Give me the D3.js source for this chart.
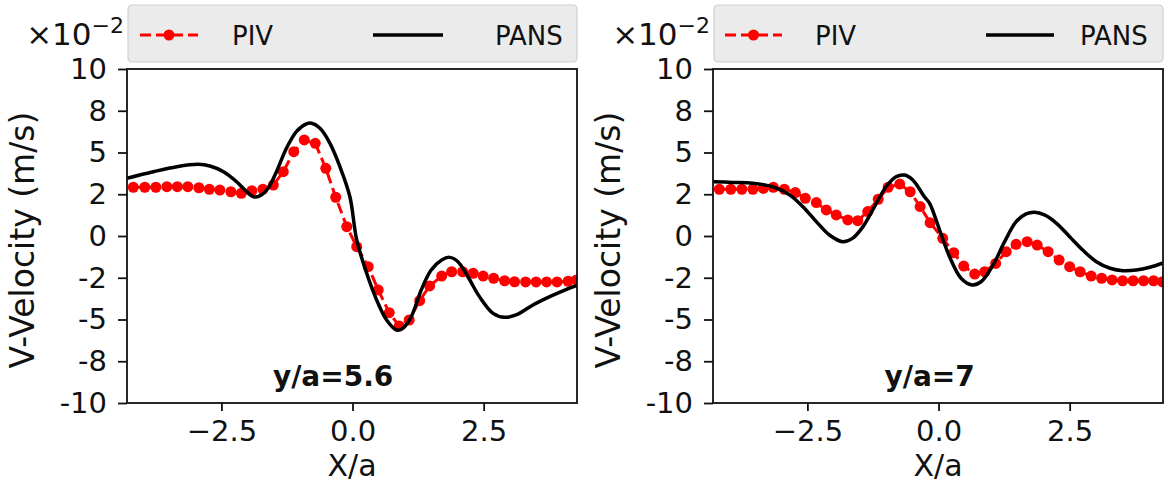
<!DOCTYPE html>
<html>
<head>
<meta charset="utf-8">
<script src="https://cdn.jsdelivr.net/npm/d3@7"></script>
<style>
  body { margin: 0; background: #fff; }
  text { font-family: "DejaVu Sans", sans-serif; fill: #111; }
</style>
</head>
<body>
<div id="divbody"></div>
<script>
// ---- data (values in 1e-2 m/s) ----
var xTicks = [-2.5, 0, 2.5];
var xTickLabels = ["\u22122.5", "0.0", "2.5"];
var yTicks = [-10, -7.5, -5, -2.5, 0, 2.5, 5, 7.5, 10];
var yTickLabels = ["-10", "-8", "-5", "-2", "0", "2", "5", "8", "10"];
var seriesNames = ["PIV", "PANS"];
var panelTitles = ["y/a=5.6", "y/a=7"];

var pivLeftX = [-4.18, -3.96, -3.75, -3.54, -3.34, -3.14, -2.93, -2.73, -2.53, -2.32, -2.12, -1.92, -1.71, -1.51, -1.32, -1.12, -0.92, -0.71, -0.51, -0.32, -0.11, 0.08, 0.30, 0.49, 0.70, 0.89, 1.08, 1.28, 1.47, 1.70, 1.89, 2.10, 2.30, 2.49, 2.69, 2.90, 3.09, 3.30, 3.50, 3.70, 3.90, 4.11, 4.27];
var pivLeftV = [2.92, 2.92, 2.92, 2.95, 2.95, 2.95, 2.89, 2.80, 2.75, 2.65, 2.56, 2.71, 2.80, 3.05, 3.85, 5.05, 5.75, 5.55, 4.05, 2.32, 0.56, -0.64, -1.84, -3.23, -4.59, -5.39, -5.03, -3.87, -2.99, -2.40, -2.14, -2.14, -2.23, -2.40, -2.53, -2.68, -2.74, -2.75, -2.75, -2.75, -2.75, -2.71, -2.63];

var pansLeftX = [-4.30, -3.80, -3.35, -2.94, -2.72, -2.46, -2.21, -2.02, -1.89, -1.77, -1.61, -1.45, -1.26, -1.07, -0.88, -0.78, -0.62, -0.43, -0.24, -0.05, 0.08, 0.27, 0.46, 0.65, 0.84, 0.96, 1.12, 1.31, 1.50, 1.70, 1.85, 2.01, 2.20, 2.42, 2.68, 2.90, 3.12, 3.44, 3.76, 4.08, 4.30];
var pansLeftV = [3.46, 3.85, 4.15, 4.29, 4.19, 3.85, 3.25, 2.65, 2.35, 2.40, 2.86, 3.85, 5.25, 6.25, 6.71, 6.75, 6.45, 5.55, 4.15, 2.35, -0.24, -2.23, -3.83, -5.03, -5.63, -5.53, -4.83, -3.23, -2.04, -1.44, -1.28, -1.54, -2.44, -3.63, -4.63, -4.87, -4.73, -4.13, -3.63, -3.19, -2.93];

var pivRightX = [-4.18, -3.96, -3.75, -3.54, -3.34, -3.15, -2.94, -2.73, -2.54, -2.33, -2.14, -1.95, -1.73, -1.54, -1.35, -1.15, -0.96, -0.74, -0.54, -0.35, -0.16, 0.08, 0.29, 0.48, 0.69, 0.88, 1.09, 1.29, 1.48, 1.69, 1.88, 2.09, 2.30, 2.50, 2.70, 2.91, 3.11, 3.31, 3.51, 3.71, 3.91, 4.10, 4.27];
var pivRightV = [2.80, 2.80, 2.80, 2.80, 2.85, 2.92, 2.80, 2.60, 2.26, 2.00, 1.56, 1.26, 0.96, 0.92, 1.46, 2.20, 2.92, 3.11, 2.65, 1.76, 0.80, -0.14, -1.00, -1.80, -2.28, -2.14, -1.64, -0.94, -0.50, -0.34, -0.54, -0.94, -1.44, -1.84, -2.14, -2.40, -2.53, -2.63, -2.68, -2.68, -2.68, -2.68, -2.74];

var pansRightX = [-4.31, -3.93, -3.54, -3.16, -2.84, -2.59, -2.33, -2.08, -1.83, -1.64, -1.44, -1.22, -1.00, -0.81, -0.65, -0.49, -0.27, -0.17, 0.02, 0.21, 0.43, 0.64, 0.81, 1.04, 1.26, 1.48, 1.67, 1.83, 2.02, 2.25, 2.50, 2.75, 3.01, 3.27, 3.52, 3.77, 4.03, 4.27];
var pansRightV = [3.25, 3.21, 3.16, 2.95, 2.46, 1.76, 0.86, 0.06, -0.34, -0.14, 0.56, 1.76, 2.95, 3.55, 3.65, 3.35, 2.35, 1.96, 0.36, -1.24, -2.53, -2.93, -2.74, -1.74, -0.34, 0.86, 1.32, 1.42, 1.26, 0.76, -0.04, -0.84, -1.54, -1.93, -2.08, -2.04, -1.87, -1.63];

var titleX = [-0.37, -0.17];
var titleY = [-9.0, -9.0];

// ---- layout ----
var width = 1168, height = 497;
var plotTop = 69, plotBottom = 403;
var panels = [
  { left: 127, right: 577, piv: [pivLeftX, pivLeftV], pans: [pansLeftX, pansLeftV], title: panelTitles[0], tx: titleX[0], ty: titleY[0],
    leg: { pivH: [13, 71], pivT: 105, pansH: [246, 316], pansT: 368 } },
  { left: 713, right: 1163, piv: [pivRightX, pivRightV], pans: [pansRightX, pansRightV], title: panelTitles[1], tx: titleX[1], ty: titleY[1],
    leg: { pivH: [12, 69], pivT: 102, pansH: [273, 341], pansT: 367 } }
];

var svg = d3.select("#divbody").append("svg")
  .attr("width", width)
  .attr("height", height);
svg.append("rect").attr("width", width).attr("height", height).attr("fill", "#fff");

panels.forEach(function(p) {
  var x = d3.scaleLinear().domain([-4.3, 4.28]).range([p.left, p.right]);
  var y = d3.scaleLinear().domain([-10, 10]).range([plotBottom, plotTop]);
  var g = svg.append("g");

  var clipId = "clip" + p.left;
  g.append("clipPath").attr("id", clipId)
    .append("rect").attr("x", p.left).attr("y", plotTop).attr("width", p.right - p.left).attr("height", plotBottom - plotTop);

  var plot = g.append("g").attr("clip-path", "url(#" + clipId + ")");

  var pivData = p.piv[0].map(function(d, i) { return [d, p.piv[1][i]]; });
  var pansData = p.pans[0].map(function(d, i) { return [d, p.pans[1][i]]; });

  var line = d3.line().x(function(d) { return x(d[0]); }).y(function(d) { return y(d[1]); });
  var smooth = d3.line().curve(d3.curveCatmullRom.alpha(0.5))
    .x(function(d) { return x(d[0]); }).y(function(d) { return y(d[1]); });

  plot.append("path").datum(pivData)
    .attr("d", line)
    .attr("fill", "none").attr("stroke", "#ff0000").attr("stroke-width", 3)
    .attr("stroke-dasharray", "11,5");
  plot.selectAll("circle").data(pivData).enter().append("circle")
    .attr("cx", function(d) { return x(d[0]); })
    .attr("cy", function(d) { return y(d[1]); })
    .attr("r", 5.5).attr("fill", "#ff0000");
  plot.append("path").datum(pansData)
    .attr("d", smooth)
    .attr("fill", "none").attr("stroke", "#000").attr("stroke-width", 3.5);

  // frame
  g.append("rect").attr("x", p.left).attr("y", plotTop)
    .attr("width", p.right - p.left).attr("height", plotBottom - plotTop)
    .attr("fill", "none").attr("stroke", "#111").attr("stroke-width", 1.8);

  // axes
  var xAxis = d3.axisBottom(x).tickValues(xTicks).tickSize(8).tickPadding(9)
    .tickFormat(function(d, i) { return xTickLabels[i]; });
  var yAxis = d3.axisLeft(y).tickValues(yTicks).tickSize(9).tickPadding(11)
    .tickFormat(function(d, i) { return yTickLabels[i]; });
  var gx = g.append("g").attr("transform", "translate(0," + plotBottom + ")").call(xAxis);
  var gy = g.append("g").attr("transform", "translate(" + p.left + ",0)").call(yAxis);
  [gx, gy].forEach(function(a) {
    a.select(".domain").remove();
    a.selectAll("line").attr("stroke", "#111").attr("stroke-width", 1.8);
    a.selectAll("text").attr("font-size", 29).attr("font-family", "DejaVu Sans").attr("fill", "#111");
  });

  // axis labels
  g.append("text").attr("x", (p.left + p.right) / 2).attr("y", 476)
    .attr("text-anchor", "middle").attr("font-size", 30).text("X/a");
  g.append("text")
    .attr("transform", "translate(" + (p.left - 93) + "," + ((plotTop + plotBottom) / 2 + 4) + ") rotate(-90)")
    .attr("text-anchor", "middle").attr("font-size", 33).text("V-Velocity (m/s)");

  // offset text
  var off = g.append("text").attr("x", p.left - 3).attr("y", 45).attr("text-anchor", "end").attr("font-size", 31);
  off.append("tspan").text("\u00d710");
  off.append("tspan").attr("dy", -12).attr("font-size", 22).text("\u22122");

  // panel title
  g.append("text").attr("x", x(p.tx)).attr("y", y(p.ty))
    .attr("text-anchor", "middle").attr("font-family", "Lato, sans-serif")
    .attr("font-weight", "bold").attr("font-size", 28).attr("fill", "#000").text(p.title);

  // legend
  var lg = g.append("g").attr("transform", "translate(" + p.left + ",0)");
  lg.append("rect").attr("x", 1).attr("y", 5).attr("width", p.right - p.left - 1).attr("height", 57)
    .attr("rx", 4).attr("fill", "#ebebeb").attr("stroke", "#cfcfcf").attr("stroke-width", 1.2);
  var ly = 35;
  lg.append("line").attr("x1", p.leg.pivH[0]).attr("x2", p.leg.pivH[1]).attr("y1", ly).attr("y2", ly)
    .attr("stroke", "#ff0000").attr("stroke-width", 3).attr("stroke-dasharray", "11,5");
  lg.append("circle").attr("cx", (p.leg.pivH[0] + p.leg.pivH[1]) / 2).attr("cy", ly).attr("r", 5.5).attr("fill", "#ff0000");
  lg.append("text").attr("x", p.leg.pivT).attr("y", ly + 9.5).attr("font-size", 26).text(seriesNames[0]);
  lg.append("line").attr("x1", p.leg.pansH[0]).attr("x2", p.leg.pansH[1]).attr("y1", ly).attr("y2", ly)
    .attr("stroke", "#000").attr("stroke-width", 3.5);
  lg.append("text").attr("x", p.leg.pansT).attr("y", ly + 9.5).attr("font-size", 26).text(seriesNames[1]);
});
</script>
</body>
</html>
